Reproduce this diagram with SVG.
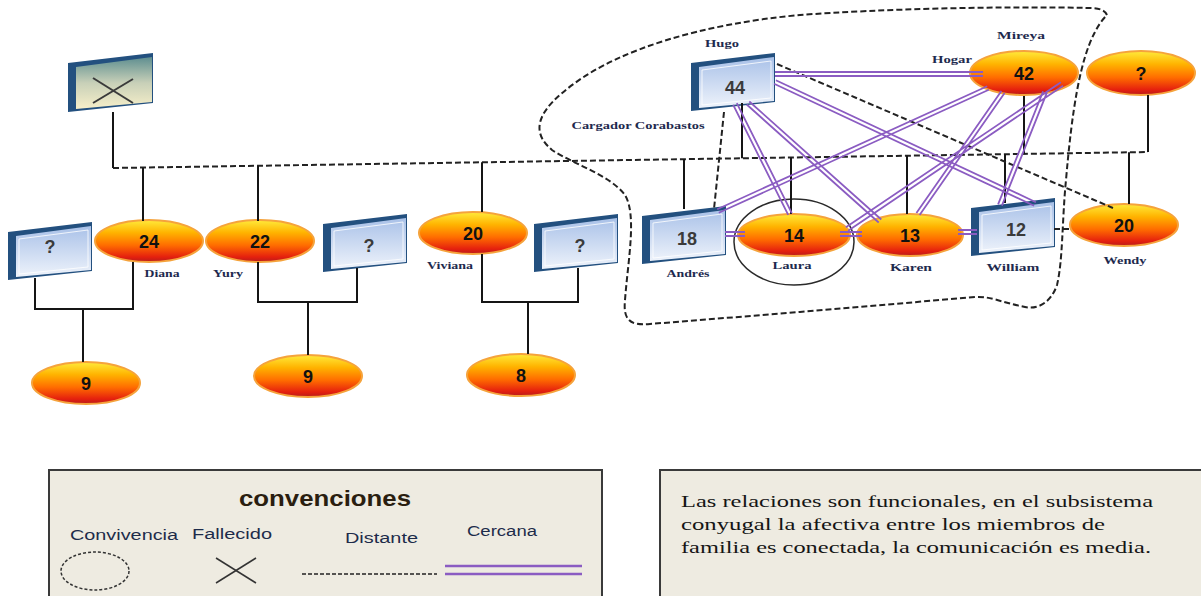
<svg xmlns="http://www.w3.org/2000/svg" width="1201" height="596" viewBox="0 0 1201 596">
<style>
.fem{fill:url(#gF);stroke:#F5A33C;stroke-width:2}
.en{font-family:"Liberation Sans",Arial,sans-serif;font-weight:bold;font-size:18px;fill:#111;text-anchor:middle}
.bn{font-family:"Liberation Sans",Arial,sans-serif;font-weight:bold;font-size:18px;fill:#3a3a3a;text-anchor:middle}
.lbl{font-family:"Liberation Serif","Times New Roman",serif;font-weight:bold;font-size:11px;fill:#1E2A4E;text-anchor:middle}
.sol{stroke:#151515;stroke-width:2;fill:none}
.dsh{stroke:#222;stroke-width:2;fill:none;stroke-dasharray:6 3}
.cer{stroke:#8B5CC2;stroke-width:1.8;fill:none}
.leg{font-family:"Liberation Sans",Arial,sans-serif;font-size:14px;fill:#1D2B4A}
.txt{font-family:"Liberation Serif","Times New Roman",serif;font-size:17px;fill:#151515}
</style>
<defs>
<linearGradient id="gF" x1="0" y1="0" x2="0" y2="1">
<stop offset="0" stop-color="#FFEB3B"/>
<stop offset="0.3" stop-color="#FFB300"/>
<stop offset="0.6" stop-color="#FF6D00"/>
<stop offset="0.88" stop-color="#E5200E"/>
<stop offset="1" stop-color="#B71C1C"/>
</linearGradient>
<linearGradient id="gM" x1="0" y1="0" x2="0" y2="1">
<stop offset="0" stop-color="#A9C1E8"/>
<stop offset="1" stop-color="#EEF3FB"/>
</linearGradient>
<linearGradient id="gD" x1="0" y1="0" x2="0" y2="1">
<stop offset="0" stop-color="#5E8E90"/>
<stop offset="0.5" stop-color="#C8D0B8"/>
<stop offset="1" stop-color="#F7EFC9"/>
</linearGradient>
<g id="mbox">
<polygon points="0,10 84,0 84,49 0,58" fill="#23507F"/>
<polygon points="8,14 83,4 83,48 8,55" fill="url(#gM)"/>
<polygon points="11,17 80,8 80,45 11,52" fill="none" stroke="#ffffff" stroke-width="1" opacity="0.8"/>
</g>
<g id="dbox">
<polygon points="0,10 85,0 85,50 0,59" fill="#23507F"/>
<polygon points="8,14 84,4 84,49 8,56" fill="url(#gD)"/>
<line x1="25" y1="25" x2="65" y2="50" stroke="#3a3a3a" stroke-width="2"/>
<line x1="25" y1="50" x2="65" y2="26" stroke="#3a3a3a" stroke-width="2"/>
</g>
</defs>
<rect width="1201" height="596" fill="#ffffff"/>

<path id="convivencia" class="dsh" d="M 1107,15 Q 1104,8 1090,8 C 1000,6 880,9 800,15 C 700,24 620,50 575,83 C 540,108 528,130 552,150 C 575,165 610,175 625,195 C 637,215 628,260 625,300 C 623,320 630,326 650,324 L 800,312 L 975,297 C 990,296 1000,302 1025,307 C 1040,310 1052,300 1057,285 C 1063,260 1062,220 1066,180 C 1072,110 1080,60 1095,32 Q 1100,22 1107,15 Z"/>

<g id="n-deceased"><use href="#dbox" x="68" y="53"/></g>
<g id="n-q1"><use href="#mbox" x="8" y="222"/><text class="bn" x="50" y="253">?</text></g>
<g id="n-diana"><ellipse class="fem" cx="149" cy="241" rx="54" ry="21"/><text class="en" x="149" y="248">24</text><text class="lbl" x="162" y="277" textLength="35" lengthAdjust="spacingAndGlyphs">Diana</text></g>
<g id="n-yury"><ellipse class="fem" cx="260" cy="241" rx="54" ry="21"/><text class="en" x="260" y="248">22</text><text class="lbl" x="228" y="277" textLength="30" lengthAdjust="spacingAndGlyphs">Yury</text></g>
<g id="n-q2"><use href="#mbox" x="323" y="214"/><text class="bn" x="369" y="252">?</text></g>
<g id="n-viviana"><ellipse class="fem" cx="473" cy="233" rx="54" ry="21"/><text class="en" x="473" y="240">20</text><text class="lbl" x="450" y="269" textLength="46" lengthAdjust="spacingAndGlyphs">Viviana</text></g>
<g id="n-q3"><use href="#mbox" x="534" y="214"/><text class="bn" x="580" y="252">?</text></g>
<g id="n-c9a"><ellipse class="fem" cx="86" cy="383" rx="54" ry="21"/><text class="en" x="86" y="390">9</text></g>
<g id="n-c9b"><ellipse class="fem" cx="308" cy="376" rx="54" ry="21"/><text class="en" x="308" y="383">9</text></g>
<g id="n-c8"><ellipse class="fem" cx="521" cy="375" rx="54" ry="21"/><text class="en" x="521" y="382">8</text></g>
<g id="n-hugo"><use href="#mbox" x="691" y="53"/><text class="bn" x="735" y="94">44</text><text class="lbl" x="722" y="47" textLength="34" lengthAdjust="spacingAndGlyphs">Hugo</text><text class="lbl" x="638" y="129" textLength="133" lengthAdjust="spacingAndGlyphs">Cargador Corabastos</text></g>
<g id="n-mireya"><ellipse class="fem" cx="1024" cy="73" rx="54" ry="22"/><text class="en" x="1024" y="80">42</text><text class="lbl" x="1021" y="39" textLength="48" lengthAdjust="spacingAndGlyphs">Mireya</text><text class="lbl" x="952" y="63" textLength="40" lengthAdjust="spacingAndGlyphs">Hogar</text></g>
<g id="n-q4"><ellipse class="fem" cx="1141" cy="73" rx="54" ry="22"/><text class="en" x="1141" y="80">?</text></g>
<g id="n-andres"><use href="#mbox" x="642" y="206"/><text class="bn" x="687" y="245">18</text><text class="lbl" x="688" y="277" textLength="43" lengthAdjust="spacingAndGlyphs">Andrés</text></g>
<g id="n-laura"><ellipse class="fem" cx="794" cy="235" rx="56" ry="21"/><text class="en" x="794" y="242">14</text><text class="lbl" x="792" y="269" textLength="39" lengthAdjust="spacingAndGlyphs">Laura</text><ellipse cx="794" cy="242" rx="60" ry="43" fill="none" stroke="#2a2a2a" stroke-width="1.5"/></g>
<g id="n-karen"><ellipse class="fem" cx="910" cy="235" rx="53" ry="21"/><text class="en" x="910" y="242">13</text><text class="lbl" x="911" y="271" textLength="42" lengthAdjust="spacingAndGlyphs">Karen</text></g>
<g id="n-william"><use href="#mbox" x="971" y="198"/><text class="bn" x="1016" y="236">12</text><text class="lbl" x="1013" y="271" textLength="53" lengthAdjust="spacingAndGlyphs">William</text></g>
<g id="n-wendy"><ellipse class="fem" cx="1124" cy="225" rx="54" ry="21"/><text class="en" x="1124" y="232">20</text><text class="lbl" x="1125" y="264" textLength="43" lengthAdjust="spacingAndGlyphs">Wendy</text></g>

<g id="connectors">
<line class="dsh" x1="113" y1="168" x2="1148" y2="152"/>
<path class="sol" d="M113,112 V168 M143,167.5 V221 M258,166 V221 M482,162.3 V212 M684,159.2 V209 M742,103 V158.3 M791,157.5 V214 M907,155.7 V214 M1005,154.2 V203 M1024,96 V153.9 M1148,95 V152 M1129,152.3 V204"/>
<path class="sol" d="M35,278 V309 H133 V262 M83,309 V362 M258,262 V302 H357 V268 M308,302 V355 M482,254 V302 H578 V268 M528,302 V354"/>
<line class="dsh" x1="724" y1="112" x2="714" y2="209"/>
<line class="dsh" x1="777" y1="64" x2="1113" y2="208"/>
<line class="dsh" x1="1054" y1="229" x2="1071" y2="229"/>
<path class="cer" d="M775,72 H983 M775,76 H983
M733.2,104.9 L788.2,214.9 M736.8,103.1 L791.8,213.1
M746.7,104.5 L878.7,222.5 M749.3,101.5 L881.3,219.5
M774.1,83.8 L1034.1,205.8 M775.9,80.2 L1035.9,202.2
M987.2,86.2 L717.2,209.2 M988.8,89.8 L718.8,212.8
M1001.4,90.9 L916.4,212.9 M1004.6,93.1 L919.6,215.1
M1060.9,82.3 L845.9,227.3 M1063.1,85.7 L848.1,230.7
M1043.1,91.3 L998.1,204.3 M1046.9,92.7 L1001.9,205.7
M725,232 H745 M725,236 H745
M840,232 H862 M840,236 H862
M958,230 H977 M958,234 H977"/>
</g>

<g id="legend">
<rect x="49" y="470" width="553" height="140" fill="#EEEBE1" stroke="#3a3a3a" stroke-width="2"/>
<text x="325" y="506" font-family="'Liberation Sans',Arial,sans-serif" font-weight="bold" font-size="22" fill="#2a1e10" text-anchor="middle" textLength="172" lengthAdjust="spacingAndGlyphs">convenciones</text>
<text class="leg" x="70" y="540" textLength="108" lengthAdjust="spacingAndGlyphs">Convivencia</text>
<text class="leg" x="192" y="539" textLength="80" lengthAdjust="spacingAndGlyphs">Fallecido</text>
<text class="leg" x="345" y="543" textLength="73" lengthAdjust="spacingAndGlyphs">Distante</text>
<text class="leg" x="467" y="536" textLength="70" lengthAdjust="spacingAndGlyphs">Cercana</text>
<ellipse cx="95" cy="571" rx="34" ry="19" fill="none" stroke="#333" stroke-width="1.5" stroke-dasharray="3 2"/>
<line x1="216" y1="558" x2="256" y2="583" stroke="#333" stroke-width="1.5"/>
<line x1="216" y1="583" x2="256" y2="558" stroke="#333" stroke-width="1.5"/>
<line x1="302" y1="574" x2="437" y2="574" stroke="#222" stroke-width="1.5" stroke-dasharray="4 2"/>
<line x1="445" y1="566" x2="582" y2="566" stroke="#8B5CC2" stroke-width="2.5"/>
<line x1="445" y1="574" x2="582" y2="574" stroke="#8B5CC2" stroke-width="2.5"/>
</g>

<g id="note">
<rect x="660" y="470" width="560" height="140" fill="#EEEBE1" stroke="#3a3a3a" stroke-width="2"/>
<text class="txt" x="681" y="507" textLength="472" lengthAdjust="spacingAndGlyphs">Las relaciones son funcionales, en el subsistema</text>
<text class="txt" x="681" y="530" textLength="424" lengthAdjust="spacingAndGlyphs">conyugal la afectiva entre los miembros de</text>
<text class="txt" x="681" y="553" textLength="470" lengthAdjust="spacingAndGlyphs">familia es conectada, la comunicación es media.</text>
</g>
</svg>
